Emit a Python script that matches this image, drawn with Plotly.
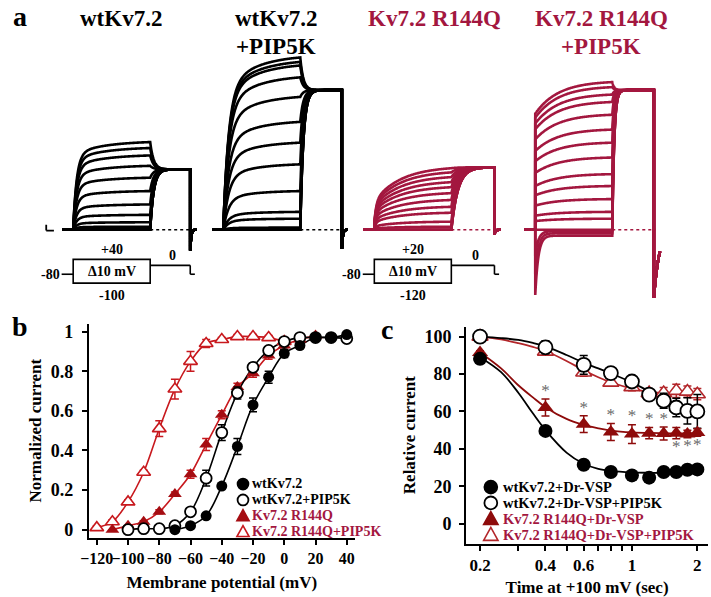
import numpy as np
import plotly.graph_objects as go

# The page body margin is removed after plotting (post_script), so page px == figure px.
W, H = 711, 597
FONT = "Liberation Serif"
BLACK = "#000000"
CRIMSON = "#A3173F"
RED_B = "#C8191E"
DRED_B = "#A50D12"
RED_C = "#B3262A"
DRED_C = "#8E0B0B"
GREY = "#6A6A6A"

# ---------------- panel a : current traces (nA), end-of-step level of each trace ----------------
a_titles = [["wtKv7.2"], ["wtKv7.2", "+PIP5K"], ["Kv7.2 R144Q"], ["Kv7.2 R144Q", "+PIP5K"]]
a_step_wt = [0, 0, 0, 0, 0.03, 0.1, 0.25, 0.5, 0.85, 1.3, 1.75, 2.15, 2.5, 2.75, 2.95]
a_step_wtp = [0, 0, 0, 0.07, 0.37, 0.6, 1.3, 2.2, 2.93, 3.63, 4.47, 5.13, 5.53, 5.65, 5.8]
a_step_mut = [0, 0, 0, 0, 0.1, 0.27, 0.57, 0.77, 1.0, 1.23, 1.43, 1.6, 1.77, 1.93, 2.07]
a_step_mutp = [0, 0.37, 0.6, 1.03, 1.47, 1.87, 2.43, 2.93, 3.37, 3.87, 4.3, 4.55, 4.8, 4.97]
a_inward_peak_mutp = [-2.2, -1.5, -0.9]
a_inward_ss_mutp = [-0.2, -0.12, -0.05]
a_tail = [2.03, 4.7, 2.1, 4.7]
a_end_spike = [-0.7, -0.65, -0.15, -2.3]
a_scalebar = (0.2, 100)  # nA, ms
prot_hold = "-80"
prot_zero = "0"
prot_step = "\u039410 mV"
prot_top = ["+40", "+20"]
prot_bottom = ["-100", "-120"]

# ---------------- panel b : activation curves ----------------
b_v_wt = [-70, -60, -50, -40, -30, -20, -10, 0, 10, 20, 30, 40]
b_wt = [0.0, 0.02, 0.07, 0.22, 0.42, 0.63, 0.77, 0.89, 0.93, 0.97, 0.97, 0.985]
b_wt_err = [0, 0, 0, 0.01, 0.04, 0.035, 0.03, 0.02, 0.015, 0.01, 0.01, 0.01]
b_v_wtp = [-100, -90, -80, -70, -60, -50, -40, -30, -20, -10, 0, 10, 20, 30, 40]
b_wtp = [0.0, 0.005, 0.005, 0.02, 0.09, 0.26, 0.49, 0.69, 0.82, 0.905, 0.95, 0.97, 0.97, 0.97, 0.965]
b_wtp_err = [0, 0, 0, 0, 0.01, 0.04, 0.04, 0.03, 0.02, 0.01, 0.01, 0.01, 0.01, 0.01, 0.01]
b_v_mut = [-110, -100, -90, -80, -70, -60, -50, -40, -30, -20, -10, 0, 10, 20]
b_mut = [0.0, 0.02, 0.04, 0.09, 0.18, 0.28, 0.43, 0.58, 0.72, 0.79, 0.88, 0.93, 0.96, 0.98]
b_mut_err = [0, 0, 0.005, 0.01, 0.01, 0.02, 0.03, 0.02, 0.02, 0.02, 0.02, 0.02, 0.01, 0.01]
b_v_mutp = [-120, -110, -100, -90, -80, -70, -60, -50, -40, -30, -20, -10, 0]
b_mutp = [0.01, 0.04, 0.14, 0.29, 0.51, 0.71, 0.85, 0.94, 0.96, 0.975, 0.975, 0.97, 0.95]
b_mutp_err = [0.01, 0.01, 0.01, 0.01, 0.04, 0.05, 0.05, 0.02, 0.01, 0.01, 0.01, 0.01, 0.01]
b_names = ["wtKv7.2", "wtKv7.2+PIP5K", "Kv7.2 R144Q", "Kv7.2 R144Q+PIP5K"]
b_xticks = [-120, -100, -80, -60, -40, -20, 0, 20, 40]
b_yticks = [0, 0.2, 0.4, 0.6, 0.8, 1]
b_yticklabels = ["0", "0.2", "0.4", "0.6", "0.8", "1"]

# ---------------- panel c : PIP2 depletion time course ----------------
c_t = [0.2, 0.4, 0.6, 0.8, 1.0, 1.2, 1.4, 1.6, 1.8, 2.0]
c_wt = [88.1, 49.6, 31.5, 27.6, 25.8, 24.6, 27.6, 27.6, 28.8, 29.0]
c_wt_err = [1, 1, 1, 1, 1, 1, 1, 1, 1, 1]
c_wtp = [100, 94.3, 84.9, 80.5, 76.0, 69.0, 65.7, 62.1, 60.3, 60.0]
c_wtp_err = [1, 3.5, 5, 2.5, 1.5, 2, 4, 5, 7, 9]
c_mut = [91.5, 62.1, 53.2, 49.0, 47.9, 48.4, 48.2, 48.4, 47.9, 48.8]
c_mut_err = [1, 4.5, 4.5, 4.5, 5, 3, 3.5, 3, 2, 2]
c_mutp = [100, 92, 80.8, 75.4, 73, 69.8, 69.8, 71, 70.6, 69.2]
c_mutp_err = [1, 1.5, 2, 2, 2, 2, 3, 3.5, 3, 3]
# fitted curves
c_fit_t = [0.2, 0.25, 0.3, 0.35, 0.4, 0.5, 0.6, 0.7, 0.8, 1.0, 1.2, 1.5, 2.0]
c_wt_fit = [89, 81, 70, 59, 50, 38, 32, 29.3, 28.2, 27.4, 27.2, 27.1, 27.1]
c_wtp_fit = [100, 99.2, 98.2, 96.6, 94.8, 90.2, 86.0, 83.0, 80.3, 75.5, 70.8, 65.5, 60.0]
c_mut_fit = [91.5, 83, 74, 67.5, 62.3, 56, 52.8, 51, 49.8, 48.8, 48.5, 48.3, 48.3]
c_mutp_fit = [100, 98.5, 96.5, 94.5, 92.3, 87, 82, 78.3, 75.6, 72.2, 70.4, 69.6, 69.3]
c_star_above = [1, 2, 3, 4, 5, 6]   # indices into c_t
c_star_below = [7, 8, 9]
c_names = ["wtKv7.2+Dr-VSP", "wtKv7.2+Dr-VSP+PIP5K", "Kv7.2 R144Q+Dr-VSP", "Kv7.2 R144Q+Dr-VSP+PIP5K"]
c_xticks = [0.2, 0.3, 0.4, 0.5, 0.6, 0.7, 0.8, 0.9, 1, 2]
c_xticklabels = ["0.2", "", "0.4", "", "0.6", "", "", "", "1", "2"]
c_yticks = [0, 20, 40, 60, 80, 100]

# ======================================================================
fig = go.Figure()


def fx(p):  # page pixel -> paper fraction
    return p / W


def fy(p):
    return 1 - p / H


def dom_x(p0, p1):
    return [fx(p0), fx(p1)]


def dom_y(top, bottom):
    return [fy(bottom), fy(top)]


def bfont(size, color=BLACK):
    return dict(family=FONT, size=size, color=color, weight="bold")


def note(text, x, y, size, color=BLACK, xanchor="center", yanchor="middle", xref="paper", yref="paper",
         align="center"):
    fig.add_annotation(text=text, x=x, y=y, xref=xref, yref=yref, xanchor=xanchor, yanchor=yanchor,
                       align=align, showarrow=False, borderpad=0, font=bfont(size, color))


# ---------------- panel a : one shared time/current frame ----------------
PXMS = 0.078   # pixels per ms
PXNA = 30.0    # pixels per nA
A_BASE_PX = 230
A_TOP_PX, A_BOT_PX = 30, 320
fig.update_layout(
    xaxis3=dict(domain=[0, 1], range=[0, W / PXMS], visible=False, anchor="y3", fixedrange=True),
    yaxis3=dict(domain=dom_y(A_TOP_PX, A_BOT_PX),
                range=[(A_BASE_PX - A_BOT_PX) / PXNA, (A_BASE_PX - A_TOP_PX) / PXNA],
                visible=False, anchor="x3", fixedrange=True),
)
group_onset_px = [65, 217, 370, 533]
group_color = [BLACK, BLACK, CRIMSON, CRIMSON]
group_levels = [a_step_wt, a_step_wtp, a_step_mut, a_step_mutp]
group_title_x = [113, 270, 431, 600]
title_line_y = [17, 45]
group_kin = [
    dict(inst=0.0, fast=0.85, tf=45, slow=0.15, ts=400, ttail=45, tail_len=520, trec=12),
    dict(inst=0.0, fast=0.80, tf=70, slow=0.20, ts=400, ttail=40, tail_len=540, trec=12),
    dict(inst=0.10, fast=0.35, tf=25, slow=0.55, ts=350, ttail=85, tail_len=560, trec=15),
    dict(inst=0.78, fast=0.0, tf=50, slow=0.22, ts=300, ttail=25, tail_len=540, trec=70),
]
T_STEP = 1000.0
PRE = 140.0

for g in range(4):
    k = group_kin[g]
    t0 = group_onset_px[g] / PXMS          # time origin of this group on the shared axis
    T_END = T_STEP + k["tail_len"]
    t_pre = np.linspace(-PRE, 0, 8)
    t_on = np.concatenate([np.linspace(0, 80, 50), np.linspace(80, T_STEP, 120)[1:]])
    t_tail = np.concatenate([np.linspace(T_STEP, T_STEP + 120, 50),
                             np.linspace(T_STEP + 120, T_END, 60)[1:]])
    t_rec = np.linspace(T_END, T_END + 80, 25)

    def act(t, k=k):
        return (k["inst"] + k["fast"] * (1 - np.exp(-t / k["tf"]))
                + k["slow"] * (1 - np.exp(-t / k["ts"])))

    norm = act(T_STEP)
    ons = [float(A) * act(t_on) / norm for A in group_levels[g]]
    if g == 3:
        for P, S in zip(a_inward_peak_mutp, a_inward_ss_mutp):
            ons.append(S + (P - S) * np.exp(-t_on / 40.0))
    xs, ys = [], []
    for i_on in ons:
        a_end = i_on[-1]
        i_tail = a_tail[g] + (a_end - a_tail[g]) * np.exp(-(t_tail - T_STEP) / k["ttail"])
        i_rec = a_end_spike[g] * np.exp(-(t_rec - T_END) / k["trec"])
        tt = np.concatenate([t_pre, t_on, t_tail, [T_END], t_rec]) + t0
        ii = np.concatenate([np.zeros(len(t_pre)), i_on, i_tail, [i_tail[-1]], i_rec])
        xs += list(tt) + [None]
        ys += list(ii) + [None]
    fig.add_trace(go.Scatter(x=xs, y=ys, mode="lines", xaxis="x3", yaxis="y3",
                             line=dict(color=group_color[g], width=2.6, simplify=False),
                             showlegend=False, hoverinfo="skip"))
    # dotted baseline
    fig.add_trace(go.Scatter(x=[t0 + T_STEP, t0 + T_END + 20], y=[0, 0], mode="lines",
                             xaxis="x3", yaxis="y3",
                             line=dict(color=group_color[g], width=1.6, dash="dot"),
                             showlegend=False, hoverinfo="skip"))
    for li, line_text in enumerate(a_titles[g]):
        note(line_text, fx(group_title_x[g]), fy(title_line_y[li]), 23, group_color[g])

# scale bar (left of first group)
sb_nA, sb_ms = a_scalebar
sb_t = group_onset_px[0] / PXMS - 350
fig.add_shape(type="line", xref="x3", yref="y3", x0=sb_t, x1=sb_t, y0=-0.03, y1=-0.03 + sb_nA,
              line=dict(color=BLACK, width=1.8))
fig.add_shape(type="line", xref="x3", yref="y3", x0=sb_t, x1=sb_t + sb_ms, y0=-0.03, y1=-0.03,
              line=dict(color=BLACK, width=1.8))

# voltage protocols under groups 1 and 3
for p, g in enumerate([0, 2]):
    t0 = group_onset_px[g] / PXMS
    T_END = T_STEP + group_kin[g]["tail_len"]
    y_hold, y_zero, y_top, y_bot = fy(275), fy(266), fy(260), fy(284)
    ln = dict(color=BLACK, width=1.6)
    seg = [(-150, 0, y_hold, y_hold), (T_STEP, T_END, y_zero, y_zero),
           (T_END, T_END, y_zero, y_hold), (T_END, T_END + 60, y_hold, y_hold)]
    for a0, a1, b0, b1 in seg:
        fig.add_shape(type="line", xref="x3", yref="paper", x0=t0 + a0, x1=t0 + a1, y0=b0, y1=b1, line=ln)
    fig.add_shape(type="rect", xref="x3", yref="paper", x0=t0, x1=t0 + T_STEP, y0=y_bot, y1=y_top, line=ln)
    note(prot_hold, t0 - 160, y_hold, 14, xanchor="right", xref="x3")
    note(prot_step, t0 + T_STEP / 2, (y_top + y_bot) / 2, 14, xref="x3")
    note(prot_top[p], t0 + T_STEP / 2, fy(250), 14, xref="x3")
    note(prot_bottom[p], t0 + T_STEP / 2, fy(296), 14, xref="x3")
    note(prot_zero, t0 + (T_STEP + T_END) / 2 + 30, y_zero + 1 / H, 14, yanchor="bottom", xref="x3")

# ---------------- panel b ----------------
b_series = [
    (b_v_mutp, b_mutp, b_mutp_err, RED_B, dict(symbol="triangle-up", size=12, color="white",
                                                  line=dict(color=RED_B, width=1.6))),
    (b_v_mut, b_mut, b_mut_err, RED_B, dict(symbol="triangle-up", size=12, color=DRED_B,
                                               line=dict(color=DRED_B, width=0))),
    (b_v_wtp, b_wtp, b_wtp_err, BLACK, dict(symbol="circle", size=11, color="white",
                                               line=dict(color=BLACK, width=1.8))),
    (b_v_wt, b_wt, b_wt_err, BLACK, dict(symbol="circle", size=11, color=BLACK,
                                            line=dict(color=BLACK, width=0))),
]
for xv, yv, ev, col, mk in b_series:
    fig.add_trace(go.Scatter(x=xv, y=yv, mode="lines", line=dict(color=col, width=1.6, shape="spline"),
                             xaxis="x", yaxis="y", showlegend=False, hoverinfo="skip"))
for xv, yv, ev, col, mk in b_series:
    fig.add_trace(go.Scatter(x=xv, y=yv, mode="markers", marker=mk,
                             error_y=dict(type="data", array=ev, color=col, thickness=1.5, width=4),
                             xaxis="x", yaxis="y", showlegend=False))

axis_common = dict(showline=True, linewidth=2, linecolor=BLACK, ticks="outside", ticklen=5,
                   tickwidth=2, tickcolor=BLACK, showgrid=False, zeroline=False, fixedrange=True,
                   tickangle=0)
fig.update_layout(
    xaxis=dict(domain=dom_x(81, 350), range=[-125, 45], tickvals=b_xticks, anchor="y",
               tickfont=bfont(16), title=dict(text="Membrane potential (mV)", font=bfont(17), standoff=10),
               **axis_common),
    yaxis=dict(domain=dom_y(325, 541), range=[-0.04, 1.04], tickvals=b_yticks, ticktext=b_yticklabels,
               anchor="x", tickfont=bfont(18), ticklabelstandoff=5,
               title=dict(text="Normalized current", font=bfont(17), standoff=5), **axis_common),
)

# ---------------- panel c ----------------
c_series = [
    (c_fit_t, c_mutp_fit, c_mutp, c_mutp_err, RED_C,
     dict(symbol="triangle-up", size=14, color="white", line=dict(color=RED_C, width=1.6))),
    (c_fit_t, c_wtp_fit, c_wtp, c_wtp_err, BLACK,
     dict(symbol="circle", size=14, color="white", line=dict(color=BLACK, width=1.8))),
    (c_fit_t, c_mut_fit, c_mut, c_mut_err, DRED_C,
     dict(symbol="triangle-up", size=14, color=DRED_C, line=dict(width=0))),
    (c_fit_t, c_wt_fit, c_wt, c_wt_err, BLACK,
     dict(symbol="circle", size=14, color=BLACK, line=dict(width=0))),
]
for ft, fyv, yv, ev, col, mk in c_series:
    fig.add_trace(go.Scatter(x=ft, y=fyv, mode="lines", line=dict(color=col, width=1.8, shape="spline"),
                             xaxis="x2", yaxis="y2", showlegend=False, hoverinfo="skip"))
for ft, fyv, yv, ev, col, mk in c_series:
    fig.add_trace(go.Scatter(x=c_t, y=yv, mode="markers", marker=mk,
                             error_y=dict(type="data", array=ev, color=col, thickness=1.5, width=4),
                             xaxis="x2", yaxis="y2", showlegend=False))
# significance asterisks
star_x = [c_t[i] for i in c_star_above] + [c_t[i] for i in c_star_below]
star_y = ([c_mut[i] + c_mut_err[i] + 4 for i in c_star_above]
          + [c_mut[i] - c_mut_err[i] - 5 for i in c_star_below])
fig.add_trace(go.Scatter(x=star_x, y=star_y, mode="text", text=["*"] * len(star_x),
                         textfont=dict(family=FONT, size=17, color=GREY), xaxis="x2", yaxis="y2",
                         showlegend=False, hoverinfo="skip"))

fig.update_layout(
    xaxis2=dict(domain=dom_x(463, 708), type="log", range=[np.log10(0.1726), np.log10(2.24)],
                tickvals=c_xticks, ticktext=c_xticklabels, anchor="y2", tickfont=bfont(17),
                title=dict(text="Time at +100 mV (sec)", font=bfont(17), standoff=10), **axis_common),
    yaxis2=dict(domain=dom_y(328, 547), range=[-10.6, 105.3], tickvals=c_yticks, anchor="x2",
                tickfont=bfont(18), ticklabelstandoff=4,
                title=dict(text="Relative current", font=bfont(17), standoff=5), **axis_common),
)


# ---------------- legends: key symbols as shapes, labels as one multi-line text ----------------
ROW = 16.0  # px between legend rows


def legend_block(x_key, x_text, y_first, keys, names, name_cols, size, r):
    for i, (kind, fill, edge) in enumerate(keys):
        cy = y_first + i * ROW
        if kind == "circle":
            fig.add_shape(type="circle", xref="paper", yref="paper",
                          x0=fx(x_key - r), x1=fx(x_key + r), y0=fy(cy + r), y1=fy(cy - r),
                          fillcolor=fill, line=dict(color=edge, width=1.8))
        else:
            hr = r * 1.12
            path = "M {:.5f},{:.5f} L {:.5f},{:.5f} L {:.5f},{:.5f} Z".format(
                fx(x_key), fy(cy - hr), fx(x_key - hr), fy(cy + hr * 0.8), fx(x_key + hr), fy(cy + hr * 0.8))
            fig.add_shape(type="path", xref="paper", yref="paper", path=path, fillcolor=fill,
                          line=dict(color=edge, width=1.6))
    base = ROW / 1.3
    text = "<br>".join("<span style='font-size:{}px;color:{}'>{}</span>".format(size, c, n)
                       for n, c in zip(names, name_cols))
    fig.add_annotation(text=text, x=fx(x_text), y=fy(y_first + 1.5 * ROW), xref="paper", yref="paper",
                       xanchor="left", yanchor="middle", align="left", showarrow=False, borderpad=0,
                       font=bfont(base))


legend_block(237, 245, 487,
             [("circle", BLACK, BLACK), ("circle", "white", BLACK),
              ("tri", DRED_B, DRED_B), ("tri", "white", RED_B)],
             b_names, [BLACK, BLACK, CRIMSON, CRIMSON], 14, 5.5)
legend_block(488, 499, 490,
             [("circle", BLACK, BLACK), ("circle", "white", BLACK),
              ("tri", DRED_C, DRED_C), ("tri", "white", RED_C)],
             c_names, [BLACK, BLACK, CRIMSON, CRIMSON], 14.5, 6.5)

# panel letters
for letter, px, py in [("a", 11, 15), ("b", 11, 328), ("c", 383, 331)]:
    note(letter, fx(px), fy(py), 28)

fig.update_layout(width=W, height=H, margin=dict(l=0, r=0, t=0, b=0),
                  paper_bgcolor="white", plot_bgcolor="rgba(0,0,0,0)", showlegend=False)
fig.write_html("out.html", config={"displayModeBar": False},
               post_script="document.body.style.margin='0';document.body.style.overflow='hidden';")
